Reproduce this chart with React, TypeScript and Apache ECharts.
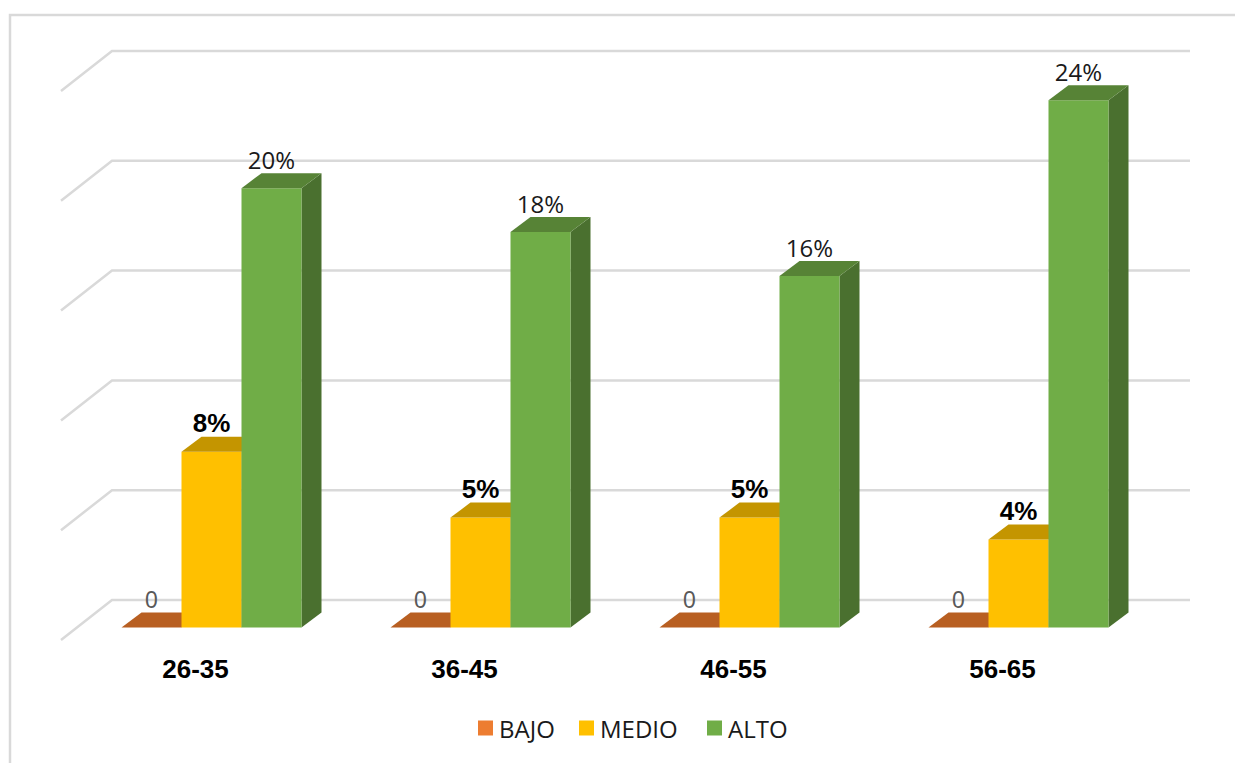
import React, { useEffect, useRef } from "react";
import * as echarts from "echarts";

const categories = ["26-35", "36-45", "46-55", "56-65"];
const bajo = [0, 0, 0, 0];
const medio = [8, 5, 5, 4];
const alto = [20, 18, 16, 24];
const gridTicks = [0, 5, 10, 15, 20, 25];

const BAR_RATIO = 60 / 269;
const FRONT_DX = 16;
const FRONT_DY = -12.6;
const DEPTH_DX = 20;
const DEPTH_DY = -15;
const WALL_DX = 51;
const WALL_DY = -40;
const WALL_RIGHT = 1190;
const GRID_COLOR = "#D9D9D9";
const LABEL_FONT = '"Open Sans", sans-serif';
const ARIAL = '"Liberation Sans", Arial, sans-serif';

function barSeries(
  name: string,
  values: number[],
  slot: number,
  colors: { front: string; top: string; side: string },
  label: { color: string; font: string; weight: string; size: number; gap: number },
) {
  return {
    name,
    type: "custom",
    itemStyle: { color: colors.front },
    data: values.map((v, i) => [i, v]),
    encode: { x: 0, y: 1 },
    renderItem: (_p: any, api: any) => {
      const i = api.value(0);
      const v = api.value(1);
      const w = api.size([1, 0])[0] * BAR_RATIO;
      const top = api.coord([i, v]);
      const base = api.coord([i, 0]);
      const l = top[0] + slot * w + FRONT_DX - w / 2;
      const r = l + w;
      const t = top[1] + FRONT_DY;
      const b = base[1] + FRONT_DY;
      const children: any[] = [];
      if (b - t > 0.5) {
        children.push({
          type: "polygon",
          shape: { points: [[r, t], [r + DEPTH_DX, t + DEPTH_DY], [r + DEPTH_DX, b + DEPTH_DY], [r, b]] },
          style: { fill: colors.side },
        });
        children.push({
          type: "rect",
          shape: { x: l, y: t, width: w, height: b - t },
          style: { fill: colors.front },
        });
      }
      children.push({
        type: "polygon",
        shape: { points: [[l, t], [l + DEPTH_DX, t + DEPTH_DY], [r + DEPTH_DX, t + DEPTH_DY], [r, t]] },
        style: { fill: colors.top },
      });
      children.push({
        type: "text",
        z2: 10,
        style: {
          text: v === 0 ? "0" : `${v}%`,
          x: l + w / 2,
          y: t - label.gap,
          align: "center",
          verticalAlign: "middle",
          fill: label.color,
          font: `${label.weight} ${label.size}px ${label.font}`,
        },
      });
      return { type: "group", children };
    },
  };
}

function legendFor(name: string, left: number) {
  return {
    data: [name],
    left,
    top: 711,
    itemWidth: 15,
    itemHeight: 15,
    itemGap: 0,
    icon: "rect",
    selectedMode: false,
    textStyle: { fontFamily: LABEL_FONT, fontSize: 24, color: "#1a1a1a", padding: [0, 0, 0, 1] },
  };
}

export default function App() {
  const ref = useRef<HTMLDivElement>(null);
  useEffect(() => {
    if (!ref.current) return;
    const chart = echarts.init(ref.current, undefined, { renderer: "svg" });
    chart.setOption({
      animation: false,
      backgroundColor: "#ffffff",
      grid: { left: 61, top: 91, width: 1076, height: 549 },
      xAxis: {
        type: "category",
        data: categories,
        axisLine: { show: false },
        axisTick: { show: false },
        axisLabel: {
          margin: 16,
          fontFamily: ARIAL,
          fontWeight: "bold",
          fontSize: 26,
          color: "#000000",
        },
      },
      yAxis: { type: "value", min: 0, max: 25, interval: 5, show: false, splitLine: { show: false } },
      legend: [legendFor("BAJO", 473), legendFor("MEDIO", 574), legendFor("ALTO", 702)],
      graphic: [
        {
          type: "polyline",
          silent: true,
          shape: { points: [[10, 770], [10, 15], [1245, 15]] },
          style: { stroke: GRID_COLOR, lineWidth: 2.5, fill: "none" },
        },
      ],
      series: [
        {
          type: "custom",
          name: "grid",
          silent: true,
          data: gridTicks.map((v) => [0, v]),
          encode: { x: 0, y: 1 },
          renderItem: (p: any, api: any) => {
            const y = api.coord([0, api.value(1)])[1];
            const x = p.coordSys.x;
            return {
              type: "polyline",
              shape: { points: [[x, y], [x + WALL_DX, y + WALL_DY], [WALL_RIGHT, y + WALL_DY]] },
              style: { stroke: GRID_COLOR, lineWidth: 2.5, fill: "none" },
            };
          },
        },
        barSeries("BAJO", bajo, -1, { front: "#ED7D31", top: "#B85F22", side: "#B85F22" }, {
          color: "#595959", font: ARIAL, weight: "normal", size: 23, gap: 27,
        }),
        barSeries("MEDIO", medio, 0, { front: "#FFC000", top: "#C49500", side: "#BF9000" }, {
          color: "#000000", font: ARIAL, weight: "bold", size: 26, gap: 28.5,
        }),
        barSeries("ALTO", alto, 1, { front: "#70AD47", top: "#578336", side: "#4A702F" }, {
          color: "#1a1a1a", font: LABEL_FONT, weight: "normal", size: 24, gap: 29,
        }),
      ],
    });
    return () => chart.dispose();
  }, []);
  return (
    <div
      ref={ref}
      style={{ position: "absolute", left: 0, top: 0, width: 1235, height: 763 }}
    />
  );
}
